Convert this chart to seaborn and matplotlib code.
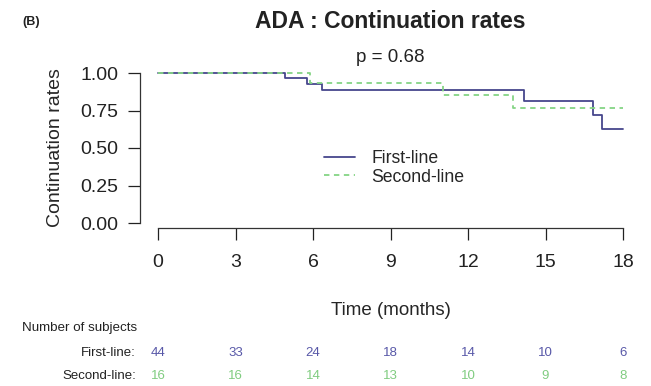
import numpy as np
import pandas as pd
import matplotlib
matplotlib.use("Agg")
import matplotlib.pyplot as plt
import seaborn as sns
from matplotlib.lines import Line2D

# step curves
first_times = [0, 4.9, 5.75, 6.33, 14.17, 16.85, 17.18, 18]
first_surv = [1.0, 0.966, 0.928, 0.884, 0.812, 0.72, 0.63, 0.63]
second_times = [0, 5.88, 11.05, 13.73, 18]
second_surv = [1.0, 0.935, 0.852, 0.766, 0.766]

risk_times = [0, 3, 6, 9, 12, 15, 18]
first_risk = [44, 33, 24, 18, 14, 10, 6]
second_risk = [16, 16, 14, 13, 10, 9, 8]

c_first = "#46468c"
c_second = "#85d485"
c_first_txt = "#5858a8"
c_second_txt = "#80cc80"

sns.set_style("ticks")
plt.rcParams["font.family"] = ["Liberation Sans", "DejaVu Sans"]

fig = plt.figure(figsize=(6.51, 3.86), dpi=100)
ax = fig.add_axes([158 / 651, (386 - 223) / 386, 465 / 651, 150 / 386])

df1 = pd.DataFrame({"time": first_times, "surv": first_surv})
df2 = pd.DataFrame({"time": second_times, "surv": second_surv})

sns.lineplot(data=df1, x="time", y="surv", ax=ax, color=c_first, lw=1.3,
             drawstyle="steps-post", estimator=None, clip_on=False)
sns.lineplot(data=df2, x="time", y="surv", ax=ax, color=c_second, lw=1.3,
             drawstyle="steps-post", estimator=None, clip_on=False,
             linestyle=(0, (3, 2.5)))

ax.set_xlim(0, 18)
ax.set_ylim(0, 1)
ax.set_xticks(risk_times)
ax.set_yticks([0, 0.25, 0.5, 0.75, 1.0])
ax.set_yticklabels(["0.00", "0.25", "0.50", "0.75", "1.00"])

for s in ["top", "right"]:
    ax.spines[s].set_visible(False)
ax.spines["left"].set_position(("outward", 13))
ax.spines["bottom"].set_position(("outward", 3.6))
ax.spines["left"].set_bounds(0, 1)
ax.spines["bottom"].set_bounds(0, 18)
for s in ["left", "bottom"]:
    ax.spines[s].set_color("#333333")
    ax.spines[s].set_linewidth(0.9)

ax.tick_params(axis="x", length=8.5, width=0.9, pad=10, labelsize=14, colors="#222222")
ax.tick_params(axis="y", length=8.5, width=0.9, pad=7, labelsize=14, colors="#222222")

ax.set_xlabel("Time (months)", fontsize=13.5)
ax.set_ylabel("Continuation rates", fontsize=14)
ax.xaxis.set_label_coords(0.5, (223 - 302) / 150)
ax.yaxis.set_label_coords((64 - 158) / 465, 0.5)

fig.text(390 / 651, 1 - 22 / 386, "ADA : Continuation rates", ha="center", va="center",
         fontsize=16.5, fontweight="bold", color="#222222")
fig.text(22 / 651, 1 - 22 / 386, "(B)", ha="left", va="center", fontsize=9,
         fontweight="bold", color="#222222")
ax.text(9, 1.1, "p = 0.68", ha="center", va="center", fontsize=13.5, color="#222222")

handles = [Line2D([0], [0], color=c_first, lw=1.3),
           Line2D([0], [0], color=c_second, lw=1.3, linestyle=(0, (3, 2.5)))]
ax.legend(handles, ["First-line", "Second-line"], frameon=False, fontsize=12.7,
          handlelength=1.75, handletextpad=0.95, labelspacing=0.1,
          loc="upper left", bbox_to_anchor=(308 / 651, 1 - 134 / 386),
          bbox_transform=fig.transFigure)

# number at risk table
fig.text(22 / 651, 1 - 328 / 386, "Number of subjects", ha="left", va="center",
         fontsize=9.6, color="#222222")
fig.text(136 / 651, 1 - 353 / 386, "First-line:", ha="right", va="center",
         fontsize=9.5, color="#222222")
fig.text(136 / 651, 1 - 376 / 386, "Second-line:", ha="right", va="center",
         fontsize=9.5, color="#222222")
for t, n1, n2 in zip(risk_times, first_risk, second_risk):
    xf = (158 + t * 465 / 18) / 651
    fig.text(xf, 1 - 353 / 386, str(n1), ha="center", va="center", fontsize=9.5,
             color=c_first_txt)
    fig.text(xf, 1 - 376 / 386, str(n2), ha="center", va="center", fontsize=9.5,
             color=c_second_txt)

fig.savefig("out.png", dpi=100)
